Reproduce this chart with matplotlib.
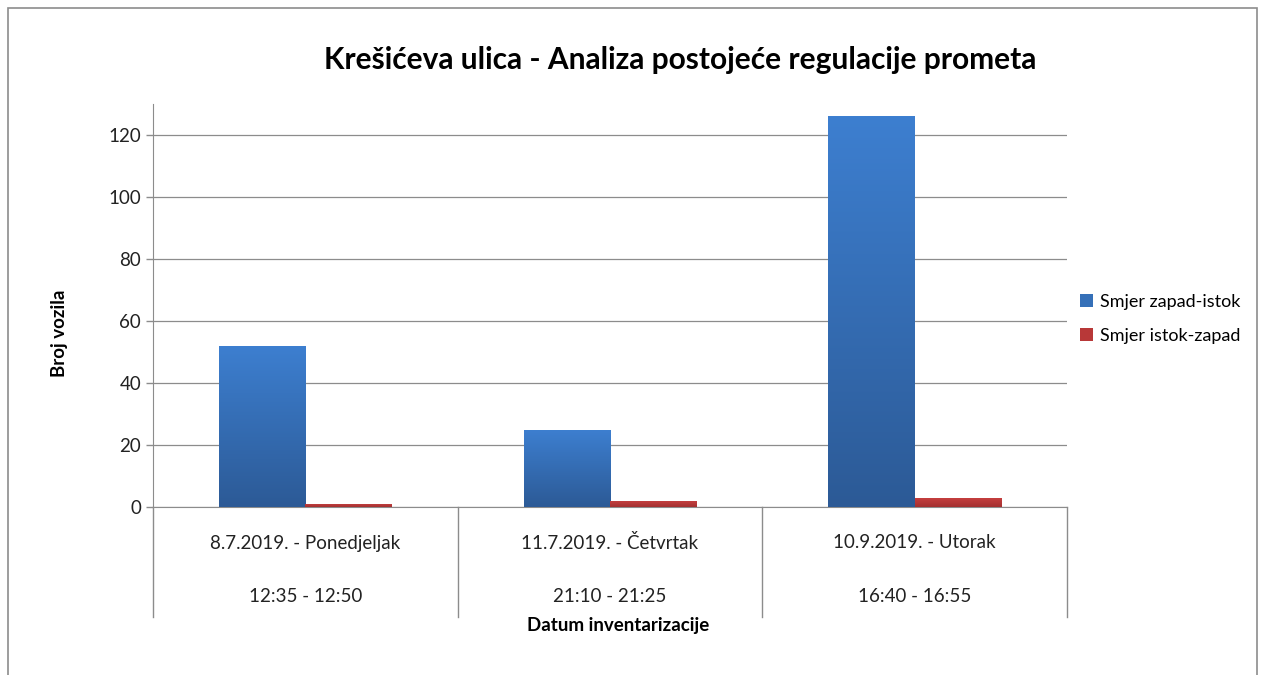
import numpy as np
import matplotlib.pyplot as plt
from matplotlib.patches import Rectangle
from matplotlib.colors import LinearSegmentedColormap

plt.rcParams['font.family'] = ['Lato', 'DejaVu Sans']

dates = ['8.7.2019. - Ponedjeljak', '11.7.2019. - Četvrtak', '10.9.2019. - Utorak']
times = ['12:35 - 12:50', '21:10 - 21:25', '16:40 - 16:55']
zapad_istok = [52, 25, 126]
istok_zapad = [1, 2, 3]
series_names = ['Smjer zapad-istok', 'Smjer istok-zapad']

fig = plt.figure(figsize=(12.65, 6.75), dpi=100)
fig.patches.append(Rectangle((8/1265, -0.01), 1249/1265, 1.0 - 8/675 + 0.01,
                             transform=fig.transFigure, fill=False,
                             edgecolor='#8c8c8c', lw=1.2))
ax = fig.add_axes([153/1265, 168/675, 914/1265, 403/675])

x = np.arange(len(dates))
w = 0.283
blue_cmap = LinearSegmentedColormap.from_list('b', ['#2c5a96', '#3d7fd0'])
red_cmap = LinearSegmentedColormap.from_list('r', ['#a33030', '#c94040'])
b1 = ax.bar(x - w/2, zapad_istok, w, color='#3570b8', zorder=2, label=series_names[0])
b2 = ax.bar(x + w/2, istok_zapad, w, color='#b83838', zorder=2, label=series_names[1])

grad = np.linspace(0, 1, 256).reshape(-1, 1)
for bars, cm in ((b1, blue_cmap), (b2, red_cmap)):
    for bar in bars:
        bx, by = bar.get_x(), bar.get_y()
        bw, bh = bar.get_width(), bar.get_height()
        im = ax.imshow(grad, cmap=cm, origin='lower', aspect='auto',
                       extent=(bx, bx + bw, by, by + bh), zorder=3)
        im.set_clip_path(bar)

ax.set_xlim(-0.5, 2.5)
ax.set_ylim(0, 130)
ax.set_yticks(range(0, 121, 20))
ax.tick_params(axis='y', labelsize=13.5, colors='#8c8c8c', labelcolor='#222222',
               length=5, width=1)
ax.set_xticks([])
ax.grid(axis='y', color='#8c8c8c', lw=0.9, zorder=0)
for s in ['top', 'right']:
    ax.spines[s].set_visible(False)
ax.spines['left'].set_color('#8c8c8c')
ax.spines['bottom'].set_color('#8c8c8c')

# category separators and labels below the axis
for i in range(len(dates) + 1):
    ax.plot([i / 3, i / 3], [0, -110 / 403], transform=ax.transAxes,
            color='#8c8c8c', lw=1, clip_on=False)
for i in range(len(dates)):
    ax.text((i + 0.5) / 3, -36 / 403, dates[i], transform=ax.transAxes,
            ha='center', va='center', fontsize=13.5, color='#222222')
    ax.text((i + 0.5) / 3, -90 / 403, times[i], transform=ax.transAxes,
            ha='center', va='center', fontsize=13.5, color='#222222')

fig.text(618/1265, 1 - 625/675, 'Datum inventarizacije', ha='center', va='center',
         fontsize=13.5, fontweight='bold')
fig.text(60/1265, 1 - 333/675, 'Broj vozila', ha='center', va='center',
         rotation=90, fontsize=13.5, fontweight='bold')
fig.text(680/1265, 1 - 60/675, 'Krešićeva ulica - Analiza postojeće regulacije prometa',
         ha='center', va='center', fontsize=21.5, fontweight='bold')

ax.legend(loc='center left', bbox_to_anchor=(1080/1265, 1 - 319/675),
          bbox_transform=fig.transFigure, frameon=False, fontsize=13,
          borderpad=0, borderaxespad=0,
          handlelength=0.7, handleheight=0.7, handletextpad=0.4, labelspacing=1.0)

fig.savefig('out.png', dpi=100)
